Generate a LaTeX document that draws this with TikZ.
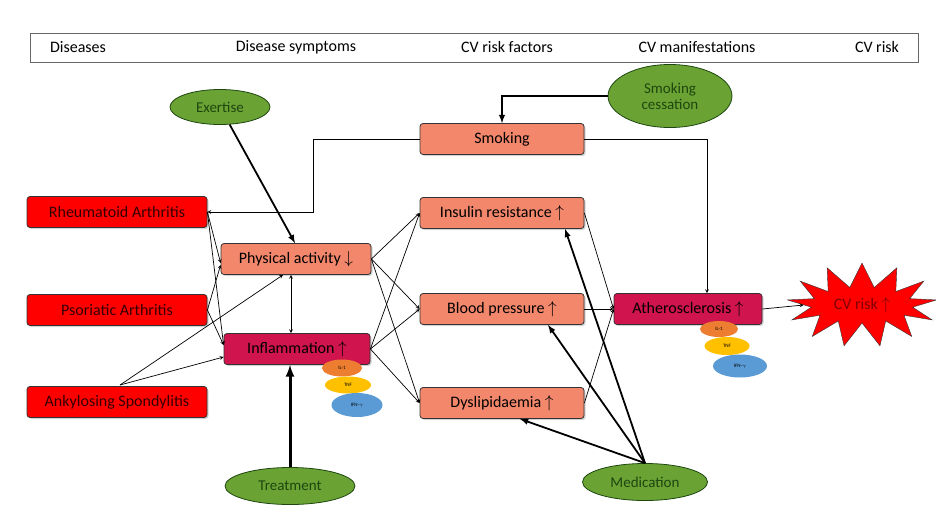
\documentclass[tikz,border=0pt]{standalone}
\usepackage{fontspec}
\setmainfont{Carlito}
\usetikzlibrary{arrows,shapes.geometric,shapes.symbols,shadows}
\definecolor{disred}{RGB}{255,0,0}
\definecolor{salmon}{RGB}{242,135,108}
\definecolor{crimson}{RGB}{208,20,78}
\definecolor{leaf}{RGB}{106,163,52}
\definecolor{leafdark}{RGB}{30,70,15}
\definecolor{ilorange}{RGB}{237,125,49}
\definecolor{tnfyellow}{RGB}{255,192,0}
\definecolor{ifnblue}{RGB}{91,155,213}

\begin{document}
\begin{tikzpicture}[x=1pt, y=-1pt, every node/.style={font=\fontsize{16}{18}\selectfont}]
        \useasboundingbox (0,0) rectangle (936,531);
        \tikzset{box/.style={rectangle, rounded corners=3pt, draw=black!80, thick, minimum height=31pt, inner sep=1pt,
                 drop shadow={opacity=0.35, shadow xshift=1.5pt, shadow yshift=-1.5pt}}}
        \tikzset{disease/.style={box, fill=disred, text=black!80!red, minimum width=180pt}}
        \tikzset{factor/.style={box, fill=salmon, minimum width=164pt}}
        \tikzset{manif/.style={box, fill=crimson, minimum width=148pt}}
        \tikzset{cure/.style={ellipse, draw=leafdark, thick, fill=leaf, text=leafdark, inner sep=0pt,
                 font=\fontsize{15}{16}\selectfont}}
        \tikzset{cyto/.style={ellipse, inner sep=0pt, font=\fontsize{5}{6}\selectfont}}
        % header
        \node[draw=black!60, minimum width=888pt, minimum height=29pt] (head) at (474,47.5) {};
        \node (hdis) at (78,47) {Diseases};
        \node (hsym) at (296,47) {Disease symptoms};
        \node (hfac) at (507,47) {CV risk factors};
        \node (hman) at (697,47) {CV manifestations};
        \node (hrisk) at (877,47) {CV risk};
        % diseases
        \node[disease] (ra) at (117,212) {Rheumatoid Arthritis};
        \node[disease] (psa) at (117,310) {Psoriatic Arthritis};
        \node[disease] (as) at (117,402) {Ankylosing Spondylitis};
        % symptoms
        \node[box, fill=salmon, minimum width=150pt] (pa) at (296,259) {Physical activity $\downarrow$};
        \node[box, fill=crimson, minimum width=146pt] (infl) at (297,349) {Inflammation $\uparrow$};
        % risk factors
        \node[factor] (smok) at (502,139) {Smoking};
        \node[factor] (ins) at (502,213) {Insulin resistance $\uparrow$};
        \node[factor] (bp) at (502,309) {Blood pressure $\uparrow$};
        \node[factor] (dys) at (502,403) {Dyslipidaemia $\uparrow$};
        % manifestation and risk
        \node[manif] (ath) at (688,309) {Atherosclerosis $\uparrow$};
        \node[starburst, starburst points=13, starburst point height=24pt, random starburst=0,
              fill=disred, draw=black!80, minimum width=150pt, minimum height=84pt,
              text=red!50!black, inner sep=0pt] (cvr) at (862,305) {CV risk $\uparrow$};
        % interventions
        \node[cure, minimum width=100pt, minimum height=35pt] (ex) at (220,107) {Exertise};
        \node[cure, minimum width=124pt, minimum height=63pt, align=center] (cess) at (670,96) {Smoking\\cessation};
        \node[cure, minimum width=130pt, minimum height=37pt] (treat) at (290,486) {Treatment};
        \node[cure, minimum width=125pt, minimum height=37pt] (med) at (645,482) {Medication};
        % cytokines
        \node[cyto, fill=ilorange, minimum width=40pt, minimum height=17pt] (il1a) at (342,368) {IL-1};
        \node[cyto, fill=tnfyellow, minimum width=46pt, minimum height=17pt] (tnfa) at (348,385) {TNF};
        \node[cyto, fill=ifnblue, minimum width=51pt, minimum height=24pt] (ifna) at (357,405) {IFN-$\gamma$};
        \node[cyto, fill=ilorange, minimum width=38pt, minimum height=16pt] (il1b) at (719,329) {IL-1};
        \node[cyto, fill=tnfyellow, minimum width=45pt, minimum height=18pt] (tnfb) at (727,346) {TNF};
        \node[cyto, fill=ifnblue, minimum width=54pt, minimum height=23pt] (ifnb) at (740,366) {IFN-$\gamma$};
        % connectors
        \tikzset{thin/.style={->, >=stealth, black, line width=0.7pt}};
        \tikzset{bold/.style={->, >=latex, line width=1.8pt}};
        \coordinate (asup) at (120,385);
        \path (ra.east) edge [thin] ([yshift=-4pt]pa.west);
        \path (ra.east) edge [thin] ([yshift=4pt]infl.west);
        \path (psa.east) edge [thin] ([yshift=-6pt]pa.west);
        \path (psa.east) edge [thin] ([yshift=4pt]infl.west);
        \path (asup) edge [thin] ([xshift=-13pt]pa.south);
        \path (asup) edge [thin] ([yshift=-8pt]infl.west);
        \path (pa.south -| 291,0) edge [thin, <->] (infl.north -| 291,0);
        \foreach \s in {pa, infl}
          \foreach \t in {ins, bp, dys}
            \path (\s.east) edge [thin] (\t.west);
        \foreach \t in {ins, bp, dys}
          \path (\t.east) edge [thin] (ath.west);
        \path (ath.east) edge [thin] (cvr.west);
        \draw[thin] (smok.west) -| (313,212) -- (ra.east);
        \draw[thin] (smok.east) -| (ath.north -| 707,0);
        \draw[bold] (cess.west) -| (smok.north);
        \draw[bold] (ex) -- ([xshift=-1pt]pa.north);
        \draw[->, >=latex, line width=3pt] (treat.north) -- (infl.south -| treat.north);
        \path (med.north) edge [bold] ([xshift=63pt]ins.south);
        \path (med.north) edge [bold] ([xshift=46pt]bp.south);
        \path (med.north) edge [bold] ([xshift=18pt]dys.south);
      \end{tikzpicture}
\end{document}
